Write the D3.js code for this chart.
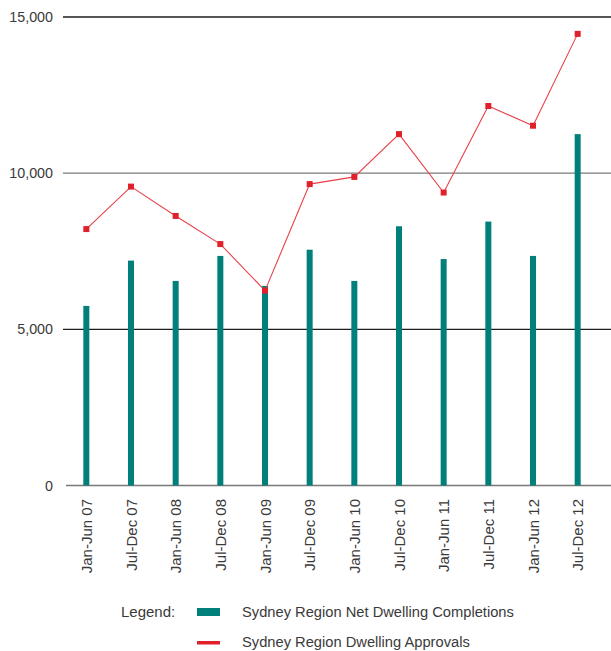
<!DOCTYPE html>
<html>
<head>
<meta charset="utf-8">
<script src="https://cdn.jsdelivr.net/npm/d3@7"></script>
<style>
  body { margin: 0; background: #fff; }
  svg text { font-family: "Liberation Sans", Arial, sans-serif; fill: #3a3a3a; }
</style>
</head>
<body>
<svg id="chart" width="611" height="651"></svg>
<script>
// chart data
const periods = ['Jan-Jun 07', 'Jul-Dec 07', 'Jan-Jun 08', 'Jul-Dec 08', 'Jan-Jun 09', 'Jul-Dec 09',
                 'Jan-Jun 10', 'Jul-Dec 10', 'Jan-Jun 11', 'Jul-Dec 11', 'Jan-Jun 12', 'Jul-Dec 12'];
const completions = [5750, 7200, 6550, 7350, 6390, 7550, 6550, 8300, 7250, 8450, 7350, 11250];
const approvals = [8210, 9570, 8630, 7730, 6240, 9650, 9880, 11250, 9380, 12150, 11520, 14460];
const yTicks = [0, 5000, 10000, 15000];
const seriesNames = ['Sydney Region Net Dwelling Completions', 'Sydney Region Dwelling Approvals'];

const teal = '#007f7b';
const red = '#e0202a';

const svg = d3.select('#chart');

// scales
const xScale = d3.scaleBand().domain(periods).range([64, 600]).padding(0);
const yScale = d3.scaleLinear().domain([0, 15000]).range([485.5, 17]);
const xMid = function(d) { return xScale(d) + xScale.bandwidth() / 2; };

// gridlines (alternating dark / grey as in the original)
const grid = svg.append('g').attr('class', 'grid');
grid.selectAll('line').data(yTicks).enter()
    .append('line')
    .attr('x1', function(d) { return d === 0 ? 66 : 63; })
    .attr('x2', 611)
    .attr('y1', function(d) { return yScale(d); })
    .attr('y2', function(d) { return yScale(d); })
    .attr('stroke', function(d, i) { return i % 2 === 0 ? '#7a7a7a' : '#1e1e1e'; })
    .attr('stroke-width', 1.3);

// y-axis labels
const yAxis = svg.append('g')
    .attr('transform', 'translate(57,0)')
    .call(d3.axisLeft(yScale).tickValues(yTicks).tickSize(0).tickPadding(4).tickFormat(d3.format(',')));
yAxis.select('.domain').remove();
yAxis.selectAll('text')
    .attr('font-size', 14.3)
    .attr('font-family', '"Liberation Sans", Arial, sans-serif')
    .attr('fill', '#444');

// x-axis labels (rotated)
const xAxis = svg.append('g')
    .attr('transform', 'translate(0,' + 499 + ')')
    .call(d3.axisBottom(xScale).tickSize(0).tickPadding(0));
xAxis.select('.domain').remove();
xAxis.selectAll('text')
    .attr('font-size', 15)
    .attr('font-family', '"Liberation Sans", Arial, sans-serif')
    .attr('fill', '#3a3a3a')
    .attr('text-anchor', 'end')
    .attr('dy', null)
    .attr('y', 0)
    .attr('x', 0)
    .attr('transform', 'rotate(-90) translate(0,5.5)');

// bars
const barW = 6;
svg.append('g').selectAll('rect').data(completions).enter()
    .append('rect')
    .attr('x', function(d, i) { return xMid(periods[i]) - barW / 2; })
    .attr('y', function(d) { return yScale(d); })
    .attr('width', barW)
    .attr('height', function(d) { return yScale(0) - yScale(d); })
    .attr('fill', teal);

// approvals line
const line = d3.line()
    .x(function(d, i) { return xMid(periods[i]); })
    .y(function(d) { return yScale(d); });

svg.append('path')
    .datum(approvals)
    .attr('d', line)
    .attr('fill', 'none')
    .attr('stroke', '#e8414a')
    .attr('stroke-width', 1.1);

const mk = 6;
svg.append('g').selectAll('rect').data(approvals).enter()
    .append('rect')
    .attr('x', function(d, i) { return xMid(periods[i]) - mk / 2; })
    .attr('y', function(d) { return yScale(d) - mk / 2; })
    .attr('width', mk)
    .attr('height', mk)
    .attr('fill', red);

// legend
const legend = svg.append('g');
legend.append('text')
    .attr('x', 121).attr('y', 617)
    .attr('font-size', 15)
    .text('Legend:');

legend.append('rect')
    .attr('x', 197).attr('y', 608).attr('width', 23).attr('height', 8)
    .attr('fill', teal);
legend.append('rect')
    .attr('x', 197).attr('y', 641).attr('width', 23).attr('height', 3.5)
    .attr('fill', red);

legend.selectAll('text.series').data(seriesNames).enter()
    .append('text')
    .attr('class', 'series')
    .attr('x', 242)
    .attr('y', function(d, i) { return 617 + i * 30; })
    .attr('font-size', 14.7)
    .text(function(d) { return d; });
</script>
</body>
</html>
